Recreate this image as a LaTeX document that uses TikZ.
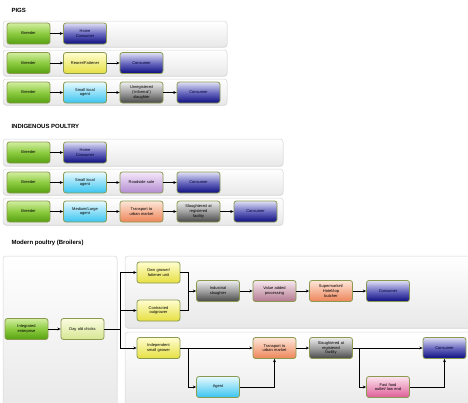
\documentclass[tikz,border=0pt]{standalone}
\usepackage{fontspec}
\setmainfont{Liberation Sans}
\usetikzlibrary{arrows.meta,shadows}
\definecolor{edgec}{HTML}{8A9A50}
\definecolor{gtop}{HTML}{D2EEA0}\definecolor{gmid}{HTML}{8CCB40}\definecolor{gbot}{HTML}{55A010}
\definecolor{btop}{HTML}{E0E0F6}\definecolor{bmid}{HTML}{6A6AC0}\definecolor{bbot}{HTML}{0C0C80}
\definecolor{ytop}{HTML}{FFFDD0}\definecolor{ybot}{HTML}{E6E040}
\definecolor{ctop}{HTML}{E8FAFF}\definecolor{cbot}{HTML}{38C4F0}
\definecolor{grtop}{HTML}{EEEEEE}\definecolor{grmid}{HTML}{A0A0A0}\definecolor{grbot}{HTML}{484848}
\definecolor{ltop}{HTML}{F4E8FA}\definecolor{lbot}{HTML}{B48CD2}
\definecolor{stop}{HTML}{FDE6D8}\definecolor{sbot}{HTML}{EE8458}
\definecolor{mtop}{HTML}{F6E8EE}\definecolor{mbot}{HTML}{B47890}
\definecolor{ptop}{HTML}{FCE4EE}\definecolor{pbot}{HTML}{DE5C98}
\definecolor{dtop}{HTML}{FCFCE0}\definecolor{dbot}{HTML}{D6E692}
\begin{document}
\begin{tikzpicture}[x=1pt,y=-1pt,
  panel/.style={draw=black!16, line width=0.5pt, rounded corners=3pt, top color=white, bottom color=black!9,
    drop shadow={opacity=0.18, shadow xshift=0.4pt, shadow yshift=-0.8pt}},
  box/.style={draw=edgec, line width=0.8pt, rounded corners=2.5pt, minimum width=43pt, minimum height=21pt,
    text width=39pt, align=center, inner sep=0pt, font=\fontsize{4}{4.6}\selectfont},
  green/.style={box, top color=gtop, bottom color=gbot, middle color=gmid},
  blue/.style={box, top color=btop, bottom color=bbot, middle color=bmid, text=black!80!blue},
  yel/.style={box, top color=ytop, bottom color=ybot},
  cya/.style={box, top color=ctop, bottom color=cbot},
  gry/.style={box, top color=grtop, bottom color=grbot, middle color=grmid},
  lav/.style={box, top color=ltop, bottom color=lbot},
  sal/.style={box, top color=stop, bottom color=sbot},
  mau/.style={box, top color=mtop, bottom color=mbot},
  pnk/.style={box, top color=ptop, bottom color=pbot},
  doc/.style={box, top color=dtop, bottom color=dbot},
  title/.style={anchor=west, font=\bfseries\fontsize{6}{7}\selectfont},
  arr/.style={line width=0.6pt, -{Stealth[length=3.2pt,width=2.8pt]}},
  ln/.style={line width=0.6pt}]
\useasboundingbox (0,0) rectangle (468,402);
\clip (0,0) rectangle (468,402);

% ---------- PIGS ----------
\node[title] (t1) at (8,10) {PIGS};
\draw[panel] (3,21) rectangle (227,47);
\draw[panel] (3,50) rectangle (227,76);
\draw[panel] (3,79) rectangle (227,105);
\node[green] (p1a) at (28.5,33.5) {Breeder};
\node[blue]  (p1b) at (85,33.5) {Home\\Consumer};
\node[green] (p2a) at (28.5,63) {Breeder};
\node[yel]   (p2b) at (85,63) {Rearer/Fattener};
\node[blue]  (p2c) at (141.5,63) {Consumer};
\node[green] (p3a) at (28.5,92.5) {Breeder};
\node[cya]   (p3b) at (85,92.5) {Small local\\agent};
\node[gry]   (p3c) at (141.5,92.5) {Unregistered\\(`informal')\\slaughter};
\node[blue]  (p3d) at (198.5,92.5) {Consumer};
\draw[arr] (p1a) -- (p1b);
\draw[arr] (p2a) -- (p2b); \draw[arr] (p2b) -- (p2c);
\draw[arr] (p3a) -- (p3b); \draw[arr] (p3b) -- (p3c); \draw[arr] (p3c) -- (p3d);

% ---------- INDIGENOUS POULTRY ----------
\node[title] (t2) at (8,126) {INDIGENOUS POULTRY};
\draw[panel] (3,139) rectangle (283,166);
\draw[panel] (3,169) rectangle (283,195);
\draw[panel] (3,198) rectangle (283,225);
\node[green] (i1a) at (28.5,152.5) {Breeder};
\node[blue]  (i1b) at (85,152.5) {Home\\Consumer};
\node[green] (i2a) at (28.5,182.5) {Breeder};
\node[cya]   (i2b) at (85,182.5) {Small local\\agent};
\node[lav]   (i2c) at (141.5,182.5) {Roadside sale};
\node[blue]  (i2d) at (198.5,182.5) {Consumer};
\node[green] (i3a) at (28.5,211.5) {Breeder};
\node[cya]   (i3b) at (85,211.5) {Medium/Large\\agent};
\node[sal]   (i3c) at (141.5,211.5) {Transport to\\urban market};
\node[gry]   (i3d) at (198.5,211.5) {Slaughtered at\\registered\\facility};
\node[blue]  (i3e) at (255.5,211.5) {Consumer};
\draw[arr] (i1a) -- (i1b);
\draw[arr] (i2a) -- (i2b); \draw[arr] (i2b) -- (i2c); \draw[arr] (i2c) -- (i2d);
\draw[arr] (i3a) -- (i3b); \draw[arr] (i3b) -- (i3c); \draw[arr] (i3c) -- (i3d); \draw[arr] (i3d) -- (i3e);

% ---------- MODERN POULTRY ----------
\node[title] (t3) at (8,243) {Modern poultry (Broilers)};
\draw[panel] (3,256) rectangle (117,412);
\draw[panel] (125,256) rectangle (478,328);
\draw[panel] (125,332) rectangle (478,412);

\node[green] (ie)  at (26.5,329) {Integrated\\enterprise};
\node[doc]   (dc)  at (82.5,329) {Day old chicks};
\node[yel]   (og)  at (158.5,272.5) {Own grower/\\fattener unit};
\node[yel]   (co)  at (158.5,310.5) {Contracted\\outgrower};
\node[yel]   (is)  at (158.5,348) {Independent\\small grower};
\node[gry]   (isl) at (218,291) {Industrial\\slaughter};
\node[mau]   (va)  at (274.5,291) {Value added\\processing};
\node[sal]   (sm)  at (331,291) {Supermarket/\\Hotel/top\\butcher};
\node[blue]  (cu)  at (388,291) {Consumer};
\node[sal]   (tr)  at (274.5,348) {Transport to\\urban market};
\node[cya]   (ag)  at (218,387) {Agent};
\node[gry]   (sr)  at (331,348) {Slaughtered at\\registered\\facility};
\node[blue]  (cl)  at (444.5,348) {Consumer};
\node[pnk]   (ff)  at (388,387) {Fast food\\outlet/ low end};

\coordinate (br) at (120,329);
\coordinate (mg) at (188,291);
\coordinate (ab) at (188,348);
\coordinate (fb) at (359,348);

\draw[arr] (ie) -- (dc);
\draw[ln] (dc) -- (br);
\draw[arr] (br) |- (og);
\draw[arr] (br) |- (co);
\draw[arr] (br) |- (is);
\draw[ln] (og.east) -| (mg);
\draw[ln] (co.east) -| (mg);
\draw[arr] (mg) -- (isl);
\draw[arr] (isl) -- (va);
\draw[arr] (va) -- (sm);
\draw[arr] (sm) -- (cu);
\draw[arr] (is) -- (tr);
\draw[arr] (ab) |- (ag);
\draw[arr] (ag) -| (tr);
\draw[arr] (tr) -- (sr);
\draw[arr] (sr) -- (cl);
\draw[arr] (fb) |- (ff);
\draw[arr] (ff) -| (cl);
\end{tikzpicture}
\end{document}
